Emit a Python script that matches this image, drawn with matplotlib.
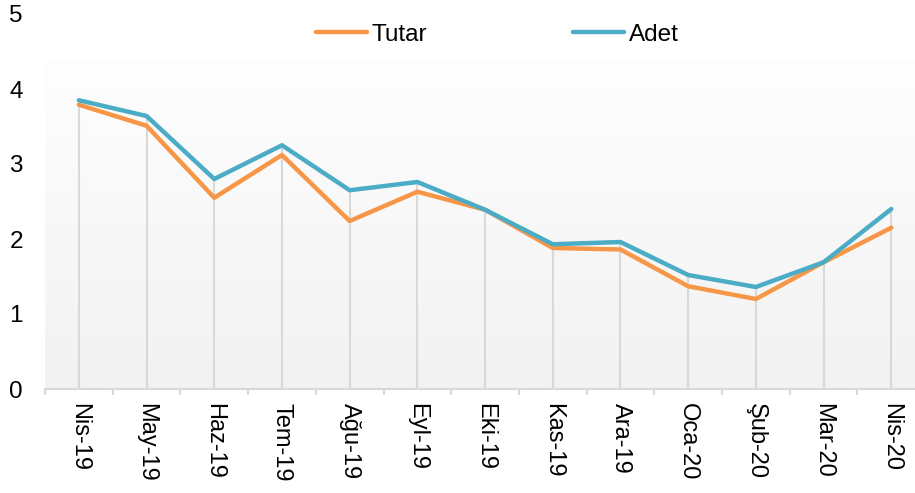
import numpy as np
import matplotlib
matplotlib.use('Agg')
import matplotlib.pyplot as plt
from matplotlib.colors import LinearSegmentedColormap

plt.rcParams['font.family'] = ['Liberation Sans', 'DejaVu Sans']

aylar = ['Nis-19', 'May-19', 'Haz-19', 'Tem-19', 'Ağu-19', 'Eyl-19', 'Eki-19',
         'Kas-19', 'Ara-19', 'Oca-20', 'Şub-20', 'Mar-20', 'Nis-20']
tutar = [3.79, 3.51, 2.55, 3.12, 2.24, 2.63, 2.39, 1.88, 1.86, 1.37, 1.20, 1.69, 2.15]
adet = [3.85, 3.64, 2.80, 3.25, 2.65, 2.76, 2.39, 1.93, 1.96, 1.52, 1.36, 1.69, 2.40]
y_ticks = [0, 1, 2, 3, 4, 5]

color_tutar = '#f79646'
color_adet = '#4bacc6'
grid_gray = '#d9d9d9'

fig = plt.figure(figsize=(9.15, 4.93), dpi=100)
ax = fig.add_axes([45 / 915, 1 - 389 / 493, 1 - 45 / 915, (389 - 14) / 493])

x = np.arange(len(aylar))
ax.set_xlim(-0.5, 12.35)
ax.set_ylim(0, 5)

# plot area gradient (white -> light gray)
top_val = 4.38
cmap = LinearSegmentedColormap.from_list('bg', ['#fefefe', '#f2f2f2'])
grad = np.linspace(0, 1, 256).reshape(-1, 1)
ax.imshow(grad, cmap=cmap, aspect='auto', extent=(-0.5, 12.35, 0, top_val),
          origin='upper', zorder=0)

# drop lines
tepe = np.maximum(tutar, adet)
ax.vlines(x, 0, tepe, colors=grid_gray, linewidth=1.5, zorder=1)

ax.plot(x, tutar, color=color_tutar, linewidth=3.2, label='Tutar', zorder=3,
        solid_capstyle='round')
ax.plot(x, adet, color=color_adet, linewidth=3.2, label='Adet', zorder=4,
        solid_capstyle='round')

for s in ['top', 'right', 'left']:
    ax.spines[s].set_visible(False)
ax.spines['bottom'].set_color(grid_gray)
ax.spines['bottom'].set_linewidth(1.5)

ax.set_yticks(y_ticks)
ax.tick_params(axis='y', length=0, pad=16, labelsize=17.5)
ax.set_xticks(x)
ax.set_xticklabels(aylar, rotation=270, fontsize=17, va='top', ha='center')
ax.tick_params(axis='x', which='major', length=0, pad=10)
ax.set_xticks(np.arange(-0.5, 12.5, 1), minor=True)
ax.tick_params(axis='x', which='minor', length=4.5, width=1.5, color=grid_gray)

ax.legend(loc='center', bbox_to_anchor=(0.52, 0.945), ncol=2, frameon=False,
          fontsize=17.5, handlelength=2.1, handletextpad=0.2, columnspacing=6.0)

fig.savefig('out.png', dpi=100)
